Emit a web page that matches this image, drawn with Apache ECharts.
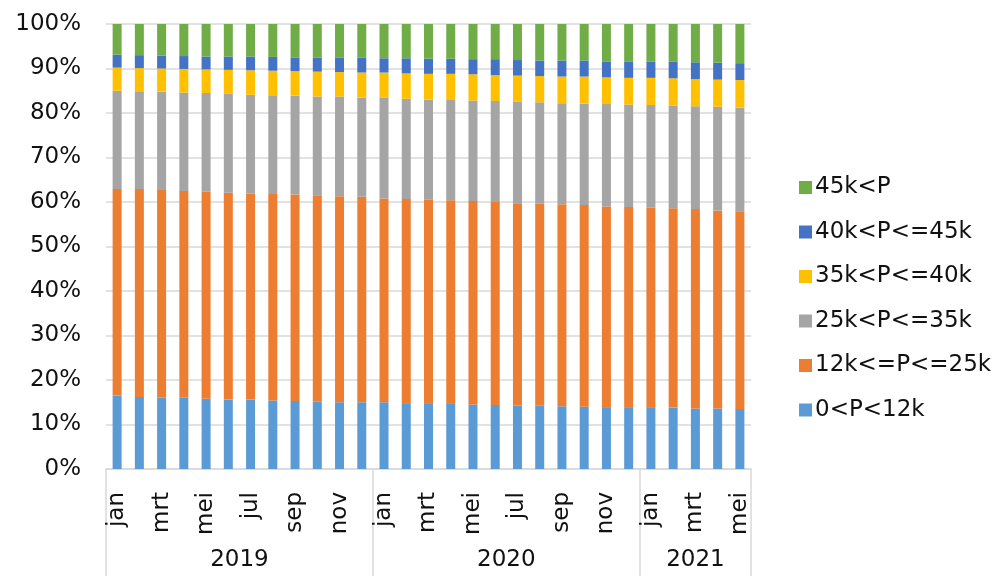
<!DOCTYPE html>
<html>
<head>
<meta charset="utf-8">
<script src="https://cdn.jsdelivr.net/npm/echarts@6/dist/echarts.min.js"></script>
<style>
html,body{margin:0;padding:0;background:#fff;}
#chart{width:998px;height:576px;}
</style>
</head>
<body>
<div id="chart"></div>
<script>
const months = ['jan','feb','mrt','apr','mei','jun','jul','aug','sep','okt','nov','dec',
  'jan','feb','mrt','apr','mei','jun','jul','aug','sep','okt','nov','dec',
  'jan','feb','mrt','apr','mei'];
const years = ['2019','2020','2021'];
const yearCounts = [12, 12, 5];
const yTicks = [0,10,20,30,40,50,60,70,80,90,100];

const s0_12k = [16.5,16.2,16.1,16.0,15.8,15.6,15.6,15.4,15.3,15.1,15.0,15.0,
  15.0,14.8,14.8,14.8,14.5,14.4,14.3,14.2,14.1,14.0,13.9,13.9,13.9,13.8,13.6,13.6,13.5];
const s12_25k = [46.4,46.7,46.6,46.5,46.5,46.5,46.3,46.4,46.4,46.4,46.3,46.2,
  45.8,45.9,45.7,45.6,45.7,45.6,45.4,45.4,45.4,45.3,45.1,45.0,44.8,44.8,44.8,44.5,44.4];
const s25_35k = [22.1,22.0,22.1,22.1,22.2,22.2,22.2,22.2,22.2,22.2,22.4,22.3,
  22.6,22.5,22.5,22.5,22.6,22.7,22.8,22.8,22.7,22.8,23.0,23.0,23.1,23.0,23.1,23.3,23.3];
const s35_40k = [5.2,5.2,5.2,5.3,5.3,5.4,5.5,5.5,5.5,5.6,5.5,5.6,
  5.7,5.7,5.8,5.9,5.9,5.8,5.9,5.9,6.0,6.1,6.0,6.0,6.1,6.2,6.1,6.1,6.2];
const s40_45k = [2.9,2.9,2.9,2.9,2.9,3.0,3.1,3.1,3.1,3.1,3.2,3.3,
  3.2,3.4,3.4,3.4,3.4,3.6,3.5,3.5,3.6,3.6,3.6,3.7,3.6,3.7,3.8,3.8,3.8];
const s45k = [6.9,7.0,7.1,7.2,7.3,7.3,7.3,7.4,7.5,7.6,7.6,7.6,
  7.7,7.7,7.8,7.8,7.9,7.9,8.1,8.2,8.2,8.2,8.4,8.4,8.5,8.5,8.6,8.7,8.8];

const seriesNames = ['0<P<12k','12k<=P<=25k','25k<P<=35k','35k<P<=40k','40k<P<=45k','45k<P'];
const seriesData = [s0_12k, s12_25k, s25_35k, s35_40k, s40_45k, s45k];
const colors = ['#5B9BD5','#ED7D31','#A5A5A5','#FFC000','#4472C4','#70AD47'];

// half-month grid for the year group axis
const halfSlots = [];
const boundaryIdx = [0];
const centerIdx = {};
let acc = 0;
years.forEach((y, i) => {
  centerIdx[acc + yearCounts[i]] = y; // center in half-month units
  acc += yearCounts[i] * 2;
  boundaryIdx.push(acc);
});
for (let i = 0; i <= acc; i++) halfSlots.push(centerIdx[i] || '');

const FONT = 'DejaVu Sans';
const chart = echarts.init(document.getElementById('chart'));
chart.setOption({
  animation: false,
  color: colors,
  textStyle: {fontFamily: FONT},
  grid: {left: 106, right: 247, top: 24, bottom: 107},
  legend: {
    orient: 'vertical',
    left: 794, top: 171,
    icon: 'rect', itemWidth: 13, itemHeight: 13, itemGap: 21.5,
    textStyle: {fontFamily: FONT, fontSize: 23, color: '#111', padding: [0,0,0,-2]},
    data: seriesNames.slice().reverse()
  },
  xAxis: [{
    type: 'category',
    data: months,
    axisLine: {lineStyle: {color: '#d9d9d9', width: 1.5}},
    axisTick: {show: false},
    axisLabel: {interval: 1, rotate: 90, margin: 23, fontFamily: FONT, fontSize: 23, color: '#111'}
  }, {
    type: 'category',
    position: 'bottom',
    boundaryGap: false,
    data: halfSlots,
    axisLine: {show: false},
    axisTick: {
      show: true, length: 108,
      interval: (i) => boundaryIdx.indexOf(i) >= 0,
      lineStyle: {color: '#d9d9d9', width: 1.5}
    },
    axisLabel: {
      interval: (i, v) => v !== '',
      margin: 80, fontFamily: FONT, fontSize: 23, color: '#111'
    }
  }],
  yAxis: {
    type: 'value', min: 0, max: 100, interval: 10,
    axisLine: {show: false}, axisTick: {show: false},
    splitLine: {lineStyle: {color: '#d9d9d9', width: 1.5}},
    axisLabel: {formatter: (v) => yTicks.indexOf(v) >= 0 ? v + '%' : '', margin: 25,
      fontFamily: FONT, fontSize: 23, color: '#111'}
  },
  series: seriesNames.map((n, i) => ({
    name: n, type: 'bar', stack: 'total', xAxisIndex: 0,
    barWidth: 9,
    data: seriesData[i],
    itemStyle: {color: colors[i]}
  }))
});
</script>
</body>
</html>
